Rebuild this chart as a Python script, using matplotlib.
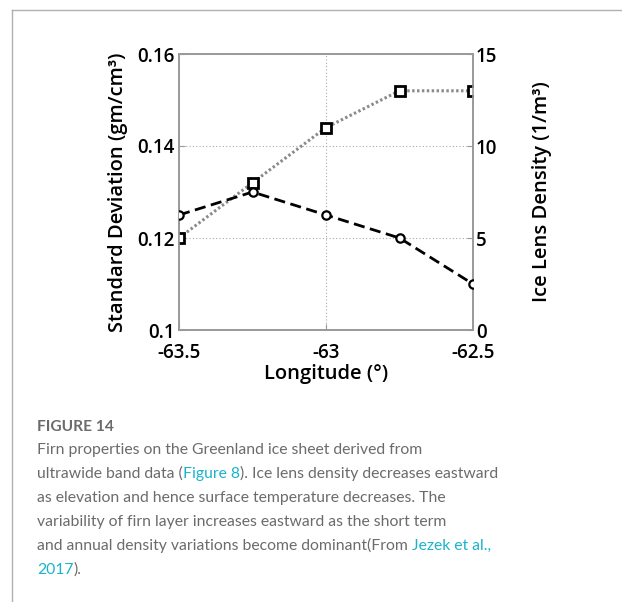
import matplotlib
matplotlib.use("Agg")
import matplotlib.pyplot as plt
from matplotlib.lines import Line2D

# ---- data ----
longitude = [-63.5, -63.25, -63.0, -62.75, -62.5]
std_dev = [0.120, 0.132, 0.144, 0.152, 0.152]          # left axis, dotted squares
ice_lens = [6.25, 7.5, 6.25, 5.0, 2.5]                 # right axis, dashed circles
xticks = [-63.5, -63.0, -62.5]
xtick_labels = ["-63.5", "-63", "-62.5"]
yticks_left = [0.10, 0.12, 0.14, 0.16]
ytick_labels_left = ["0.1", "0.12", "0.14", "0.16"]
yticks_right = [0, 5, 10, 15]
ytick_labels_right = ["0", "5", "10", "15"]

W, H = 622, 602
fig = plt.figure(figsize=(W / 100, H / 100), dpi=100)
fig.patch.set_facecolor("white")

# frame lines (page border)
fig.add_artist(Line2D([12 / W, 12 / W], [0, 1 - 10 / H], color="#b0b0b0", lw=1.0))
fig.add_artist(Line2D([12 / W, 1], [1 - 10 / H, 1 - 10 / H], color="#b0b0b0", lw=1.0))

ax = fig.add_axes([179 / W, 1 - 330 / H, (473 - 179) / W, (330 - 54) / H])
ax2 = ax.twinx()

tick_font = dict(family="Open Sans", weight="semibold", size=13.5)
label_font = dict(family="Open Sans", weight="semibold", size=14.5)

ax.plot(longitude, std_dev, linestyle=(0, (0.8, 0.8)), color="#8a8a8a", lw=2.2,
        marker="s", ms=6.5, mfc="white", mec="black", mew=2.0, zorder=3)
ax2.plot(longitude, ice_lens, linestyle=(0, (4, 2)), color="black", lw=2.0,
         marker="o", ms=6, mfc="white", mec="black", mew=1.6, zorder=3)

ax.set_xlim(-63.5, -62.5)
ax.set_ylim(0.10, 0.16)
ax2.set_ylim(0, 15)

ax.set_xticks(xticks)
ax.set_xticklabels(xtick_labels, fontdict=tick_font)
ax.set_yticks(yticks_left)
ax.set_yticklabels(ytick_labels_left, fontdict=tick_font)
ax2.set_yticks(yticks_right)
ax2.set_yticklabels(ytick_labels_right, fontdict=tick_font)

ax.grid(True, linestyle=(0, (1, 2)), color="#aaaaaa", lw=0.8)
for a in (ax, ax2):
    for s in a.spines.values():
        s.set_color("#999999")
        s.set_linewidth(1.2)
ax.tick_params(axis="y", direction="in", length=4, color="#999999", pad=3)
ax.tick_params(axis="x", direction="in", length=4, color="#999999", pad=9)
ax2.tick_params(direction="in", length=4, color="#999999", pad=2)

ax.set_xlabel("Longitude (°)", fontdict=label_font, labelpad=1)
ax.set_ylabel("Standard Deviation (gm/cm³)", fontdict=label_font, labelpad=7)
ax2.set_ylabel("Ice Lens Density (1/m³)", fontdict=label_font, labelpad=25)

# ---- caption ----
gray = "#6b6b6b"
teal = "#1ab3c9"
cap_font = dict(family="Lato", size=11.3, weight="normal")
fig.text(37 / W, 1 - 431 / H, "FIGURE 14", color=gray, family="Lato",
         size=11.2, weight="bold", va="baseline")

lines = [
    [("Firn properties on the Greenland ice sheet derived from", gray)],
    [("ultrawide band data (", gray), ("Figure 8", teal),
     ("). Ice lens density decreases eastward", gray)],
    [("as elevation and hence surface temperature decreases. The", gray)],
    [("variability of firn layer increases eastward as the short term", gray)],
    [("and annual density variations become dominant(From ", gray),
     ("Jezek et al.,", teal)],
    [("2017", teal), (").", gray)],
]
ys = [454, 478, 502, 526, 550, 574]

fig.canvas.draw()
renderer = fig.canvas.get_renderer()
for segs, y in zip(lines, ys):
    x = 37
    for txt, col in segs:
        t = fig.text(x / W, 1 - y / H, txt, color=col, va="baseline", **cap_font)
        bb = t.get_window_extent(renderer=renderer)
        x += bb.width

fig.savefig("out.png", dpi=100, facecolor="white")
